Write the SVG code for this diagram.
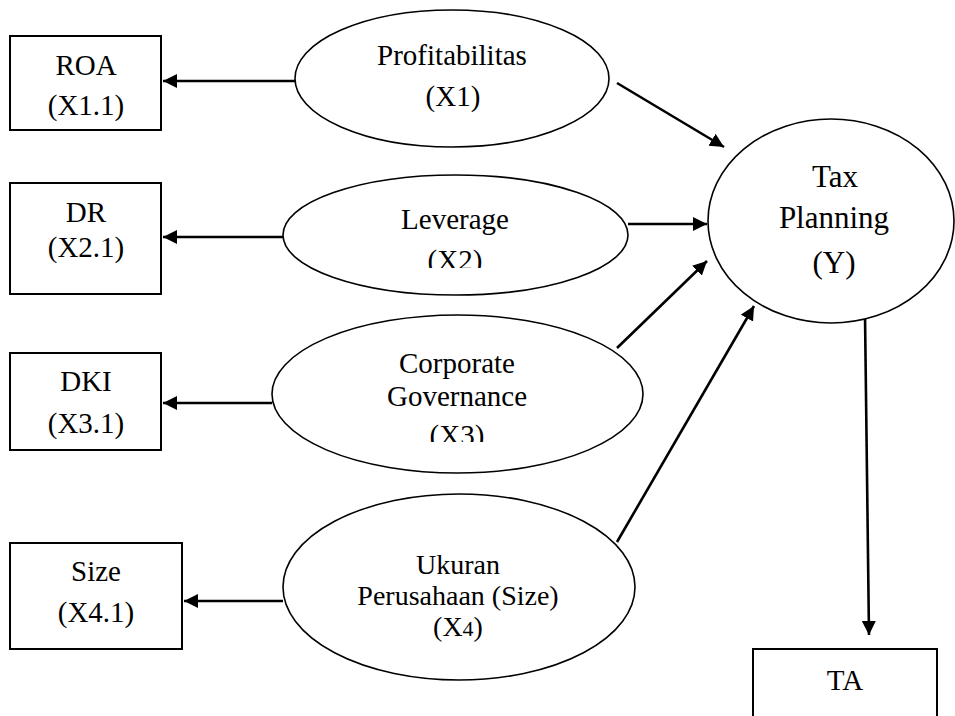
<svg xmlns="http://www.w3.org/2000/svg" width="955" height="716" viewBox="0 0 955 716">
<defs>
<style>
.t{font-family:"Liberation Serif","Times New Roman",serif;font-size:29px;fill:#000;text-anchor:middle}
.box{fill:#fff;stroke:#000;stroke-width:2}
.ell{fill:#fff;stroke:#000;stroke-width:1.6}
.con{stroke:#000;stroke-width:2.6;fill:none}
</style>
<marker id="ah" markerUnits="userSpaceOnUse" markerWidth="16" markerHeight="16" refX="14" refY="7" orient="auto">
<path d="M0,0 L14,7 L0,14 Z" fill="#000"/>
</marker>
<clipPath id="clipLev"><rect x="0" y="0" width="955" height="268"/></clipPath>
<clipPath id="clipCorp"><rect x="0" y="0" width="955" height="442"/></clipPath>
</defs>
<rect width="955" height="716" fill="#fff"/>

<g id="connectors">
<line class="con" x1="295" y1="81" x2="163" y2="81" marker-end="url(#ah)"/>
<line class="con" x1="283" y1="237" x2="163" y2="237" marker-end="url(#ah)"/>
<line class="con" x1="272" y1="403" x2="163" y2="403" marker-end="url(#ah)"/>
<line class="con" x1="283" y1="601" x2="184" y2="601" marker-end="url(#ah)"/>
<line class="con" x1="617" y1="83" x2="724" y2="147" marker-end="url(#ah)"/>
<line class="con" x1="628" y1="224" x2="707" y2="224" marker-end="url(#ah)"/>
<line class="con" x1="617" y1="348" x2="707" y2="261" marker-end="url(#ah)"/>
<line class="con" x1="617" y1="542" x2="754" y2="306" marker-end="url(#ah)"/>
<line class="con" x1="865" y1="315" x2="869" y2="635" marker-end="url(#ah)"/>
</g>

<g id="roa">
<rect class="box" x="10" y="36" width="151" height="94"/>
<text class="t" x="86" y="75">ROA</text>
<text class="t" x="86" y="115">(X1.1)</text>
</g>
<g id="dr">
<rect class="box" x="10" y="183" width="151" height="111"/>
<text class="t" x="86" y="222">DR</text>
<text class="t" x="86" y="257">(X2.1)</text>
</g>
<g id="dki">
<rect class="box" x="10" y="353" width="151" height="97"/>
<text class="t" x="86" y="391">DKI</text>
<text class="t" x="86" y="433">(X3.1)</text>
</g>
<g id="size">
<rect class="box" x="10" y="543" width="172" height="106"/>
<text class="t" x="96" y="581">Size</text>
<text class="t" x="96" y="622">(X4.1)</text>
</g>

<g id="profitabilitas">
<ellipse class="ell" cx="452" cy="78.5" rx="157" ry="68.5"/>
<text class="t" x="452" y="65">Profitabilitas</text>
<text class="t" x="453" y="106">(X1)</text>
</g>
<g id="leverage">
<ellipse class="ell" cx="455.5" cy="235" rx="172.5" ry="60"/>
<text class="t" x="455" y="229">Leverage</text>
<text class="t" x="455" y="270" clip-path="url(#clipLev)">(X2)</text>
</g>
<g id="corporate">
<ellipse class="ell" cx="457.5" cy="394" rx="185.5" ry="79"/>
<text class="t" x="457" y="373">Corporate</text>
<text class="t" x="457" y="406">Governance</text>
<text class="t" x="457" y="445" clip-path="url(#clipCorp)">(X3)</text>
</g>
<g id="ukuran">
<ellipse class="ell" cx="459" cy="587" rx="176" ry="93"/>
<text class="t" x="458" y="574" style="font-size:28px">Ukuran</text>
<text class="t" x="458" y="605" style="font-size:28px">Perusahaan (Size)</text>
<text class="t" x="458" y="636" style="font-size:28px">(X<tspan font-size="22">4</tspan>)</text>
</g>
<g id="taxplanning">
<ellipse class="ell" cx="831" cy="221" rx="123" ry="102"/>
<text class="t" x="835" y="187" style="font-size:31px">Tax</text>
<text class="t" x="834" y="228" style="font-size:31px">Planning</text>
<text class="t" x="834" y="273" style="font-size:31px">(Y)</text>
</g>
<g id="ta">
<rect class="box" x="753" y="649" width="184" height="80"/>
<text class="t" x="845" y="690">TA</text>
</g>
</svg>
